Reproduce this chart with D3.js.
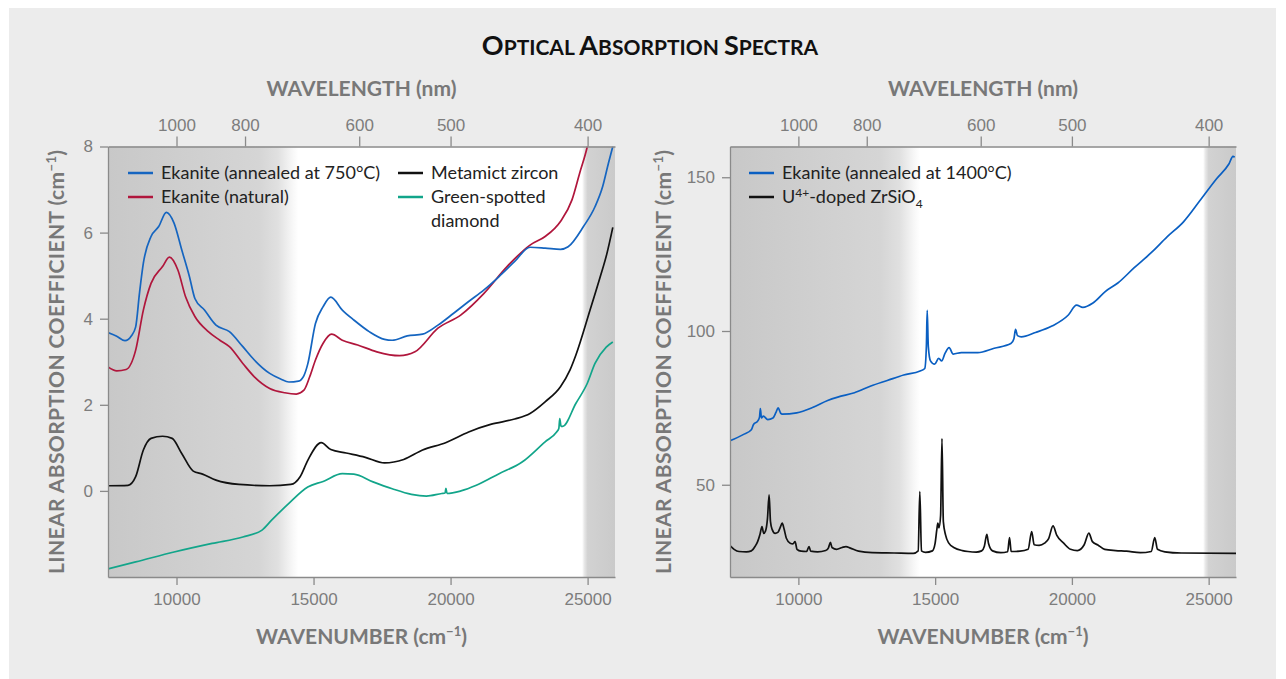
<!DOCTYPE html>
<html>
<head>
<meta charset="utf-8">
<script src="https://cdn.jsdelivr.net/npm/d3@7"></script>
<style>
  body { margin: 0; background: #fff; }
  svg { display: block; }
  .tick text { font-family: "Liberation Sans", Arial, sans-serif; font-size: 17px; fill: #7d7d7d; }
  .axis path, .axis line { stroke: #8a8a8a; stroke-width: 1.3; }
  .lbl { font-family: Lato, "Open Sans", sans-serif; font-weight: 700; fill: #787878; }
  .leg { font-family: Lato, "Open Sans", sans-serif; font-size: 18px; fill: #222; }
</style>
</head>
<body>
<svg width="1286" height="679"></svg>
<script>
// ---- data (wavenumber cm-1, absorption coefficient cm-1) ----
var wnTicks = [10000, 15000, 20000, 25000];
var nmTicks = [1000, 800, 600, 500, 400];
var leftYTicks = [0, 2, 4, 6, 8];
var rightYTicks = [50, 100, 150];

var ekanite750 = [
  [7500,3.68],[7800,3.6],[8120,3.49],[8350,3.6],[8510,3.81],[8650,4.6],[8790,5.29],[9070,5.91],[9350,6.14],
  [9630,6.47],[9910,6.22],[10190,5.6],[10470,4.98],[10670,4.47],[11020,4.2],[11440,3.85],[11930,3.7],
  [12420,3.35],[12840,3.04],[13400,2.73],[13800,2.6],[14100,2.53],[14450,2.55],[14650,2.68],[14790,2.95],
  [15070,3.89],[15350,4.28],[15630,4.5],[16050,4.2],[16470,3.97],[17030,3.7],[17590,3.52],[17870,3.5],
  [18420,3.6],[18980,3.64],[19540,3.85],[20100,4.12],[20660,4.4],[21220,4.67],[21770,4.98],[22340,5.33],
  [22900,5.66],[23450,5.64],[24010,5.61],[24290,5.67],[24850,6.14],[25270,6.6],[25550,7.07],[25760,7.61],[25920,8.0]
];
var ekaniteNatural = [
  [7500,2.88],[7820,2.79],[8160,2.82],[8510,3.27],[8790,4.2],[9070,4.82],[9490,5.21],[9740,5.43],
  [10050,5.13],[10330,4.51],[10670,4.05],[11160,3.7],[11580,3.5],[11930,3.35],[12420,2.96],[12840,2.65],
  [13400,2.38],[13950,2.28],[14370,2.25],[14650,2.34],[14860,2.65],[15070,3.04],[15350,3.43],[15660,3.64],
  [16050,3.5],[16610,3.39],[17310,3.23],[18140,3.14],[18700,3.23],[19540,3.78],[20380,4.09],[21220,4.59],
  [22060,5.21],[22900,5.71],[23450,5.91],[24010,6.26],[24430,6.76],[24710,7.38],[24990,8.0],[25150,8.5]
];
var metamictZircon = [
  [7500,0.12],[8230,0.13],[8510,0.33],[8790,0.95],[9070,1.22],[9490,1.27],[9840,1.22],[10190,0.87],
  [10610,0.46],[10950,0.39],[11440,0.25],[12280,0.15],[13400,0.12],[14170,0.15],[14510,0.33],[14790,0.71],
  [15280,1.12],[15630,0.96],[16190,0.88],[16890,0.78],[17590,0.65],[18290,0.73],[18980,0.95],[19820,1.12],
  [20660,1.37],[21490,1.55],[22340,1.67],[22900,1.8],[23450,2.07],[24010,2.42],[24360,2.81],[24570,3.15],
  [25090,4.2],[25450,4.95],[25700,5.5],[25920,6.12]
];
var greenDiamond = [
  [7500,-1.81],[8510,-1.65],[9910,-1.42],[11300,-1.22],[12420,-1.07],[13120,-0.91],[13470,-0.68],
  [14100,-0.29],[14790,0.09],[15350,0.22],[16050,0.4],[16470,0.39],[17170,0.21],[17870,0.05],[18570,-0.08],
  [19120,-0.12],[19680,-0.06],[19800,-0.05],[19830,0.06],[19870,-0.06],[20380,0.0],[20940,0.13],[21770,0.4],
  [22610,0.67],[23450,1.14],[23870,1.37],[23950,1.45],[23985,1.68],[24030,1.5],[24090,1.5],[24570,2.03],
  [24990,2.5],[25270,2.96],[25680,3.34],[25920,3.46]
];
var ekanite1400 = [
  [7500,64.3],[7980,66.3],[8280,67.9],[8360,69.6],[8510,70.7],[8580,72],[8610,74.8],[8650,71.7],[8720,72.3],
  [8880,71.2],[9070,71.7],[9180,73.5],[9260,75],[9350,73.3],[9410,73],[9940,73.4],[10540,75.2],[11070,77.4],
  [11440,78.5],[12050,79.9],[12650,82.1],[13250,83.9],[13850,85.7],[14450,87],[14620,87.8],[14680,95],
  [14710,106.7],[14750,95],[14830,90.3],[14980,89.2],[15130,91.1],[15240,90.3],[15360,92.7],[15510,94.6],
  [15660,92.5],[15960,93],[16560,93],[17160,94.4],[17770,95.9],[17880,97.5],[17940,100.5],[18010,98.5],
  [18150,98.1],[18670,99.5],[19270,101.6],[19870,105.2],[20170,108.4],[20400,107.7],[20770,109.1],
  [21230,112.9],[21680,115.6],[22280,120.6],[22880,125.3],[23480,130.6],[24080,135.5],[24690,142.5],
  [25290,149.5],[25740,154.3],[25890,156.8],[25950,156.5]
];
var uZircon = [
  [7500,30.2],[7650,29],[7830,28.3],[8100,28.2],[8280,28.5],[8420,30],[8510,31.5],[8600,34],[8670,36.4],
  [8730,34.2],[8800,35],[8870,39],[8930,46.7],[8980,38],[9040,35.5],[9150,34.2],[9250,34.5],[9330,36],
  [9410,37.5],[9480,35.5],[9560,32.6],[9700,31],[9800,30.8],[9880,31.5],[9950,29],[10100,28.4],[10300,28.3],
  [10390,29.9],[10450,28.4],[10700,28.2],[11000,28.6],[11100,29.5],[11170,31.3],[11230,29.6],[11400,29],
  [11600,29.6],[11740,29.9],[11900,29.4],[12200,28.4],[12700,27.9],[13500,27.8],[14200,27.7],[14380,28.5],
  [14440,47.8],[14500,28.5],[14650,28],[14900,28.5],[15000,31],[15060,35.3],[15100,37.5],[15140,36],
  [15200,40],[15250,65],[15300,38],[15380,33.7],[15500,31],[15700,29.5],[16000,28.6],[16200,28.3],
  [16500,28.1],[16700,28.5],[16800,30],[16890,33.9],[16950,31],[17100,28.5],[17400,27.9],[17650,28.2],
  [17720,32.8],[17780,28.3],[18100,28.4],[18400,29],[18530,34.8],[18620,30.5],[18800,30.3],[19000,31],
  [19150,32.5],[19310,36.6],[19450,33.5],[19700,31],[19950,29],[20200,28.6],[20450,30.5],[20620,34.3],
  [20750,31.5],[20950,30.4],[21200,29],[21600,28.6],[22000,28.4],[22500,27.9],[22900,28.3],[23030,32.8],
  [23130,29],[23400,28.2],[24000,27.8],[26000,27.7]
];

// background shading along the wavenumber axis
var shadeStops = [
  [7500,"#c8c8c8"],[13000,"#d5d5d5"],[13700,"#e0e0e0"],[14250,"#f8f8f8"],[14450,"#ffffff"],
  [24800,"#ffffff"],[24880,"#e8e8e8"],[25000,"#d2d2d2"],[26000,"#cacaca"]
];

var svg = d3.select("svg");

svg.append("rect").attr("x", 9).attr("y", 8).attr("width", 1267).attr("height", 671).attr("fill", "#ececec");

var title = svg.append("text")
  .attr("x", 650).attr("y", 55).attr("text-anchor", "middle")
  .style("font-family", "Lato, sans-serif").style("font-weight", 700).style("fill", "#111");
[["O","PTICAL "],["A","BSORPTION "],["S","PECTRA"]].forEach(function (w) {
  title.append("tspan").style("font-size", "27px").text(w[0]);
  title.append("tspan").style("font-size", "21px").text(w[1]);
});

function unitLabel(sel, pre) {
  sel.append("tspan").text(pre + " (cm");
  sel.append("tspan").attr("dy", -8).style("font-size", "13px").text("\u22121");
  sel.append("tspan").attr("dy", 8).text(")");
}

function panel(id, x0, x1, yDomain, yTicks, yTitleOff, series, legend, legendCols) {
  var top = 146.5, bottom = 577;
  var x = d3.scaleLinear().domain([7500, 26000]).range([x0, x1]);
  var y = d3.scaleLinear().domain(yDomain).range([bottom, top]);
  var g = svg.append("g");

  var defs = svg.append("defs");
  var grad = defs.append("linearGradient")
    .attr("id", "shade" + id).attr("gradientUnits", "userSpaceOnUse")
    .attr("x1", x0).attr("x2", x1).attr("y1", 0).attr("y2", 0);
  grad.selectAll("stop").data(shadeStops).enter().append("stop")
    .attr("offset", function (d) { return (x(d[0]) - x0) / (x1 - x0); })
    .attr("stop-color", function (d) { return d[1]; });

  g.append("rect").attr("x", x0).attr("y", top).attr("width", x1 - x0).attr("height", bottom - top)
    .attr("fill", "url(#shade" + id + ")");

  defs.append("clipPath").attr("id", "clip" + id)
    .append("rect").attr("x", x0).attr("y", top).attr("width", x1 - x0).attr("height", bottom - top);

  var line = d3.line().x(function (d) { return x(d[0]); }).y(function (d) { return y(d[1]); })
    .curve(d3.curveMonotoneX);

  g.append("g").attr("clip-path", "url(#clip" + id + ")")
    .selectAll("path").data(series).enter().append("path")
    .attr("d", function (s) { return line(s.values); })
    .attr("fill", "none").attr("stroke", function (s) { return s.color; })
    .attr("stroke-width", 1.7).attr("stroke-linejoin", "round");

  g.append("g").attr("class", "axis").attr("transform", "translate(0," + bottom + ")")
    .call(d3.axisBottom(x).tickValues(wnTicks).tickSize(8).tickSizeOuter(0).tickPadding(8).tickFormat(d3.format("d")));
  g.append("g").attr("class", "axis").attr("transform", "translate(0," + top + ")")
    .call(d3.axisTop(x).tickValues(nmTicks.map(function (n) { return 1e7 / n; }))
      .tickSize(10).tickSizeOuter(0).tickPadding(6)
      .tickFormat(function (d, i) { return nmTicks[i]; }));
  g.append("g").attr("class", "axis").attr("transform", "translate(" + x0 + ",0)")
    .call(d3.axisLeft(y).tickValues(yTicks).tickSize(8).tickSizeOuter(0).tickPadding(7));

  var cx = (x0 + x1) / 2;
  g.append("text").attr("class", "lbl").attr("x", cx).attr("y", 96).attr("text-anchor", "middle")
    .style("font-size", "21px").text("WAVELENGTH (nm)");
  unitLabel(g.append("text").attr("class", "lbl").attr("x", cx).attr("y", 644).attr("text-anchor", "middle")
    .style("font-size", "21px"), "WAVENUMBER");
  unitLabel(g.append("text").attr("class", "lbl")
    .attr("transform", "translate(" + (x0 - yTitleOff) + "," + ((top + bottom) / 2) + ") rotate(-90)")
    .attr("text-anchor", "middle").attr("dy", "0.35em").style("font-size", "21px")
    .style("letter-spacing", "0.4px"),
    "LINEAR ABSORPTION COEFFICIENT");

  legend.forEach(function (it) {
    var col = legendCols[it.col], ly = 173 + it.row * 24;
    g.append("line").attr("x1", col).attr("x2", col + 25).attr("y1", ly).attr("y2", ly)
      .attr("stroke", it.color).attr("stroke-width", 2.5);
    var t = g.append("text").attr("class", "leg").attr("x", col + 33).attr("y", ly + 6);
    it.parts.forEach(function (p) {
      var ts = t.append("tspan").text(p[0]);
      if (p[1] === "sup") ts.attr("dy", -6).style("font-size", "12px");
      if (p[1] === "sub") ts.attr("dy", 5).style("font-size", "12px");
      if (p[1] === "base") ts.attr("dy", 6);
    });
    if (it.line2) g.append("text").attr("class", "leg").attr("x", col + 33).attr("y", ly + 30).text(it.line2);
  });
}

panel("L", 108, 615, [-2, 8], leftYTicks, 51,
  [
    { values: ekaniteNatural, color: "#b0163c" },
    { values: ekanite750, color: "#1565c0" },
    { values: greenDiamond, color: "#12a58a" },
    { values: metamictZircon, color: "#111111" }
  ],
  [
    { col: 0, row: 0, color: "#1565c0", parts: [["Ekanite (annealed at 750\u00b0C)"]] },
    { col: 0, row: 1, color: "#b0163c", parts: [["Ekanite (natural)"]] },
    { col: 1, row: 0, color: "#111111", parts: [["Metamict zircon"]] },
    { col: 1, row: 1, color: "#12a58a", parts: [["Green-spotted"]], line2: "diamond" }
  ], [128, 398]);

panel("R", 730, 1236, [20, 160], rightYTicks, 66,
  [
    { values: ekanite1400, color: "#0a5fc2" },
    { values: uZircon, color: "#111111" }
  ],
  [
    { col: 0, row: 0, color: "#0a5fc2", parts: [["Ekanite (annealed at 1400\u00b0C)"]] },
    { col: 0, row: 1, color: "#111111", parts: [["U"], ["4+", "sup"], ["-doped ZrSiO", "base"], ["4", "sub"]] }
  ], [749]);
</script>
</body>
</html>
